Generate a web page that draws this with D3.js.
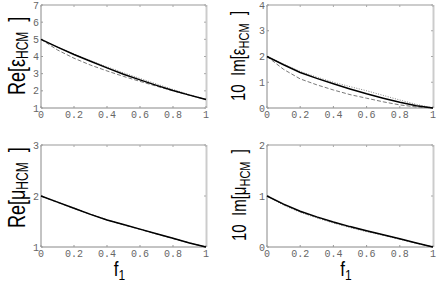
<!DOCTYPE html>
<html><head><meta charset="utf-8">
<script src="https://cdn.jsdelivr.net/npm/d3@7"></script>
<style>body{margin:0;background:#fff}svg{display:block}</style>
</head><body>
<script>
const fVals = [0,0.1,0.2,0.3,0.4,0.5,0.6,0.7,0.8,0.9,1.0];
const xTicks = [0,0.2,0.4,0.6,0.8,1];
const xTickLabels = ["0","0.2","0.4","0.6","0.8","1"];

const reEpsSolid  = [5.00,4.55,4.12,3.72,3.34,2.97,2.64,2.32,2.02,1.75,1.50];
const reEpsDashed = [5.00,4.38,3.90,3.50,3.16,2.84,2.55,2.27,2.00,1.74,1.50];
const reEpsDotted = [5.00,4.55,4.14,3.76,3.40,3.05,2.72,2.40,2.08,1.78,1.50];

const imEpsSolid  = [2.00,1.68,1.38,1.15,0.94,0.74,0.55,0.38,0.22,0.09,0.00];
const imEpsDashed = [2.00,1.50,1.13,0.90,0.70,0.52,0.38,0.24,0.12,0.04,0.00];
const imEpsDotted = [2.00,1.70,1.42,1.20,1.00,0.83,0.67,0.49,0.31,0.14,0.00];

const reMuSolid   = [2.00,1.88,1.76,1.64,1.53,1.44,1.35,1.26,1.17,1.08,1.00];
const reMuDashed  = [2.00,1.875,1.755,1.64,1.53,1.435,1.345,1.255,1.165,1.08,1.00];
const reMuDotted  = [2.00,1.885,1.765,1.645,1.535,1.44,1.35,1.26,1.17,1.08,1.00];

const imMuSolid   = [1.00,0.84,0.70,0.59,0.49,0.40,0.32,0.24,0.16,0.08,0.00];
const imMuDashed  = [1.00,0.83,0.69,0.58,0.48,0.39,0.31,0.235,0.155,0.075,0.00];
const imMuDotted  = [1.00,0.82,0.68,0.57,0.47,0.38,0.30,0.23,0.15,0.07,0.00];

const panels = [
  {x0:41,x1:206,y0:5,y1:108,yDom:[1,7],yTicks:[1,2,3,4,5,6,7],pre:"Re[",sym:"ε",
   lx:24.5,ly:95,fs:18,sub:12,sy:1.36,gap:"\u00a0\u00a0",
   solid:reEpsSolid,dashed:reEpsDashed,dotted:reEpsDotted,xlabel:false},
  {x0:267,x1:433,y0:5,y1:108,yDom:[0,4],yTicks:[0,1,2,3,4],pre:"10\u00a0\u00a0Im[",sym:"ε",
   lx:245,ly:101,fs:15,sub:11,sy:1.4,gap:"\u00a0\u00a0",
   solid:imEpsSolid,dashed:imEpsDashed,dotted:imEpsDotted,xlabel:false},
  {x0:41,x1:206,y0:145,y1:247,yDom:[1,3],yTicks:[1,2,3],pre:"Re[",sym:"μ",
   lx:25,ly:228,fs:18,sub:12,sy:1.36,gap:"\u00a0\u00a0",
   solid:reMuSolid,dashed:reMuDashed,dotted:reMuDotted,xlabel:true},
  {x0:267,x1:433,y0:145,y1:247,yDom:[0,2],yTicks:[0,1,2],pre:"10\u00a0\u00a0Im[",sym:"μ",
   lx:246,ly:241,fs:15,sub:11,sy:1.4,gap:"\u00a0\u00a0",
   solid:imMuSolid,dashed:imMuDashed,dotted:imMuDotted,xlabel:true}
];

const svg = d3.select("body").append("svg").attr("width",437).attr("height",283);

panels.forEach(p=>{
  const x = d3.scaleLinear().domain([0,1]).range([p.x0,p.x1]);
  const y = d3.scaleLinear().domain(p.yDom).range([p.y1,p.y0]);
  const g = svg.append("g");
  // frame
  g.append("line").attr("x1",p.x0).attr("x2",p.x1).attr("y1",p.y0).attr("y2",p.y0).attr("stroke","#999").attr("stroke-width",1);
  g.append("line").attr("x1",p.x0).attr("x2",p.x1).attr("y1",p.y1).attr("y2",p.y1).attr("stroke","#888").attr("stroke-width",1);
  g.append("line").attr("x1",p.x0).attr("x2",p.x0).attr("y1",p.y0).attr("y2",p.y1).attr("stroke","#888").attr("stroke-width",1);
  g.append("line").attr("x1",p.x1+0.5).attr("x2",p.x1+0.5).attr("y1",p.y0).attr("y2",p.y1).attr("stroke","#ccc").attr("stroke-width",2);
  // ticks inward
  xTicks.forEach((t,i)=>{
    g.append("line").attr("x1",x(t)).attr("x2",x(t)).attr("y1",p.y1).attr("y2",p.y1-2).attr("stroke","#999");
    g.append("line").attr("x1",x(t)).attr("x2",x(t)).attr("y1",p.y0).attr("y2",p.y0+2).attr("stroke","#aaa");
    g.append("text").attr("x",x(t)).attr("y",p.y1+10).attr("text-anchor","middle")
      .attr("font-family","Liberation Mono, DejaVu Sans Mono, monospace").attr("font-size",10).attr("fill","#666")
      .text(xTickLabels[i]);
  });
  p.yTicks.forEach(t=>{
    g.append("line").attr("x1",p.x0).attr("x2",p.x0+2).attr("y1",y(t)).attr("y2",y(t)).attr("stroke","#999");
    g.append("line").attr("x1",p.x1).attr("x2",p.x1-2).attr("y1",y(t)).attr("y2",y(t)).attr("stroke","#aaa");
    g.append("text").attr("x",p.x0-2).attr("y",y(t)+3.5).attr("text-anchor","end")
      .attr("font-family","Liberation Mono, DejaVu Sans Mono, monospace").attr("font-size",10).attr("fill","#666")
      .text(t);
  });
  const line = d3.line().x((d,i)=>x(fVals[i])).y(d=>y(d));
  g.append("path").datum(p.dashed).attr("d",line).attr("fill","none").attr("stroke","#555").attr("stroke-width",0.8).attr("stroke-dasharray","4,2");
  g.append("path").datum(p.dotted).attr("d",line).attr("fill","none").attr("stroke","#666").attr("stroke-width",0.8).attr("stroke-dasharray","1,1.5");
  g.append("path").datum(p.solid).attr("d",line).attr("fill","none").attr("stroke","#000").attr("stroke-width",1.5);
  // y label (tall, narrow glyphs)
  const t = g.append("text").attr("transform",`translate(${p.lx},${p.ly}) rotate(-90) scale(1,${p.sy})`)
    .attr("text-anchor","start").attr("font-family","Liberation Sans, Arial, sans-serif").attr("font-size",p.fs).attr("fill","#000");
  t.append("tspan").text(p.pre+p.sym);
  t.append("tspan").attr("font-size",p.sub).attr("dy",2.5).text("HCM");
  t.append("tspan").attr("dy",-2.5).text(p.gap+"]");
  if(p.xlabel){
    const xl = g.append("text").attr("transform",`translate(${(p.x0+p.x1)/2-4},276) scale(1,1.2)`).attr("text-anchor","middle")
      .attr("font-family","Liberation Sans, Arial, sans-serif").attr("font-size",17).attr("fill","#000");
    xl.append("tspan").text("f");
    xl.append("tspan").attr("font-size",12).attr("dy",3).text("1");
  }
});
</script>
</body></html>
